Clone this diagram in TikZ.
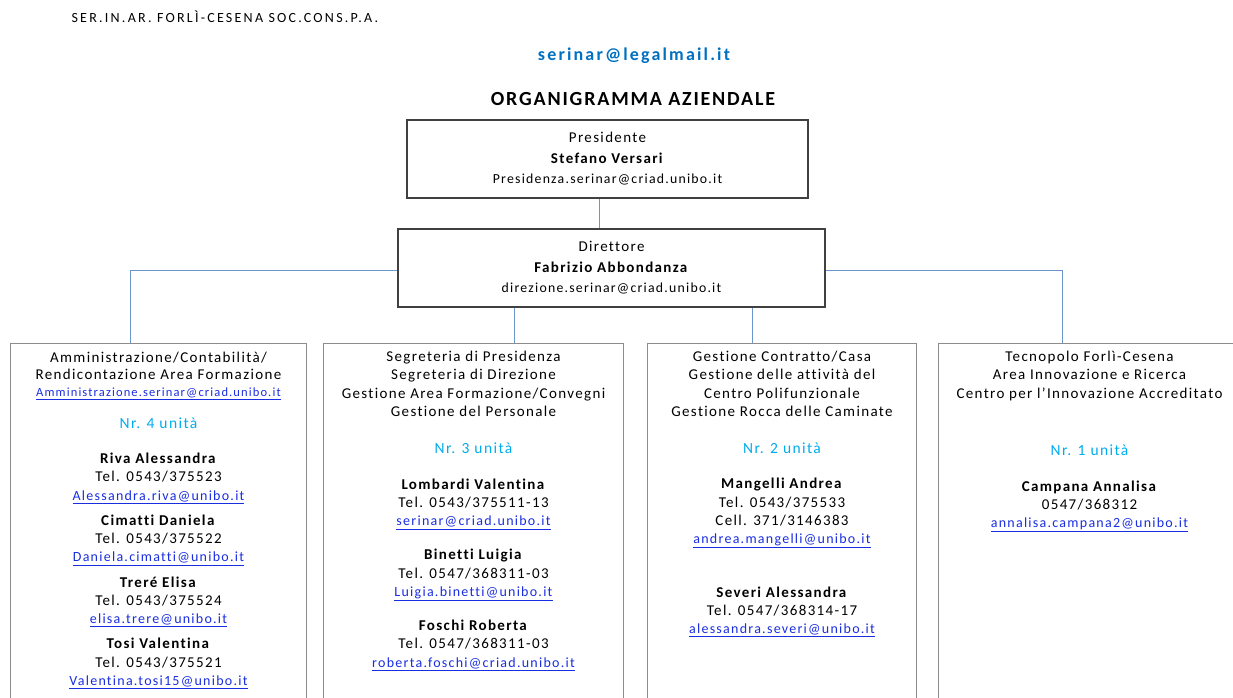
\documentclass[tikz,border=0pt]{standalone}
\usepackage{fontspec}
\setmainfont{Carlito}[LetterSpace=9, Ligatures=NoCommon]
\usetikzlibrary{positioning}

\definecolor{connblue}{RGB}{105,150,205}
\definecolor{linkblue}{RGB}{25,45,225}
\definecolor{unitcyan}{RGB}{0,172,238}
\definecolor{mailblue}{RGB}{0,112,192}

\newcommand{\mail}[1]{{\fontsize{14}{18.3}\selectfont\textcolor{linkblue}{\underline{#1}}}}
\newcommand{\unita}[1]{{\fontsize{15.5}{18.3}\selectfont\textcolor{unitcyan}{Nr. #1 unità}}}

\tikzset{
  topbox/.style={draw=black!75, line width=1.2pt, align=center, minimum height=78pt,
    font=\fontsize{15}{20.5}\selectfont},
  areabox/.style={draw=black!45, line width=1pt, anchor=north west, minimum height=370pt},
  boxtext/.style={align=center, inner sep=0pt, font=\fontsize{15}{18.3}\selectfont},
  conn/.style={draw=connblue, line width=1pt}
}

\begin{document}
\begin{tikzpicture}[x=1pt,y=-1pt]
\clip (0,0) rectangle (1233,697);

% intestazione
\node[anchor=west, font=\fontsize{14}{16}\selectfont\addfontfeature{LetterSpace=16}] (ente) at (68,17) {SER.IN.AR. FORLÌ-CESENA SOC.CONS.P.A.};
\node[font=\fontsize{18}{20}\bfseries\addfontfeature{LetterSpace=12}, text=mailblue] (pec) at (634,56) {serinar@legalmail.it};
\node[font=\fontsize{20}{22}\bfseries] (titolo) at (633,99) {ORGANIGRAMMA AZIENDALE};

% vertici
\node[topbox, minimum width=401pt] (pres) at (607.5,159) {Presidente\\ \textbf{Stefano Versari}\\ {\fontsize{13.8}{20.5}\selectfont Presidenza.serinar@criad.unibo.it}};
\node[topbox, minimum width=427pt] (dir) at (611.5,268) {Direttore\\ \textbf{Fabrizio Abbondanza}\\ {\fontsize{13.8}{20.5}\selectfont direzione.serinar@criad.unibo.it}};

% aree
\node[areabox, minimum width=296pt] (amm) at (10,343) {};
\node[areabox, minimum width=300pt] (segr) at (323,343) {};
\node[areabox, minimum width=269pt] (gest) at (647,343) {};
\node[areabox, minimum width=302pt] (tecn) at (938,343) {};

\node[boxtext, below=8.5pt of amm.north] (ammtxt) {Amministrazione/Contabilità/\\[-1.3pt] Rendicontazione Area Formazione\\[-1.3pt]
  {\fontsize{12.5}{18.3}\selectfont\textcolor{linkblue}{\underline{Amministrazione.serinar@criad.unibo.it}}}\\[13.7pt]
  \unita{4}\\[17.2pt]
  \textbf{Riva Alessandra}\\ Tel. 0543/375523\\ \mail{Alessandra.riva@unibo.it}\\[6.8pt]
  \textbf{Cimatti Daniela}\\ Tel. 0543/375522\\ \mail{Daniela.cimatti@unibo.it}\\[6.8pt]
  \textbf{Treré Elisa}\\ Tel. 0543/375524\\ \mail{elisa.trere@unibo.it}\\[6.8pt]
  \textbf{Tosi Valentina}\\ Tel. 0543/375521\\ \mail{Valentina.tosi15@unibo.it}};

\node[boxtext, below=8pt of segr.north] (segrtxt) {Segreteria di Presidenza\\ Segreteria di Direzione\\
  Gestione Area Formazione/Convegni\\ Gestione del Personale\\[18.5pt]
  \unita{3}\\[17.7pt]
  \textbf{Lombardi Valentina}\\ Tel. 0543/375511-13\\ \mail{serinar@criad.unibo.it}\\[15.7pt]
  \textbf{Binetti Luigia}\\ Tel. 0547/368311-03\\ \mail{Luigia.binetti@unibo.it}\\[15.7pt]
  \textbf{Foschi Roberta}\\ Tel. 0547/368311-03\\ \mail{roberta.foschi@criad.unibo.it}};

\node[boxtext, below=8pt of gest.north] (gesttxt) {Gestione Contratto/Casa\\ Gestione delle attività del\\
  Centro Polifunzionale\\ Gestione Rocca delle Caminate\\[18.7pt]
  \unita{2}\\[17pt]
  \textbf{Mangelli Andrea}\\ Tel. 0543/375533\\ Cell. 371/3146383\\ \mail{andrea.mangelli@unibo.it}\\[35pt]
  \textbf{Severi Alessandra}\\ Tel. 0547/368314-17\\ \mail{alessandra.severi@unibo.it}};

\node[boxtext, below=8pt of tecn.north] (tecntxt) {Tecnopolo Forlì-Cesena\\ Area Innovazione e Ricerca\\
  Centro per l’Innovazione Accreditato\\[38.5pt]
  \unita{1}\\[17.7pt]
  \textbf{Campana Annalisa}\\ 0547/368312\\ \mail{annalisa.campana2@unibo.it}};

% collegamenti
\draw[conn] ([xshift=-8pt]pres.south) -- ([xshift=-8pt]pres.south |- dir.north);
\draw[conn] ([yshift=-2pt]dir.west) -| ([xshift=-28pt]amm.north);
\draw[conn] ([yshift=-2pt]dir.east) -| ([xshift=-27pt]tecn.north);
\draw[conn] ([xshift=-97pt]dir.south) -- ([xshift=-97pt]dir.south |- segr.north);
\draw[conn] ([xshift=141pt]dir.south) -- ([xshift=141pt]dir.south |- gest.north);

\end{tikzpicture}
\end{document}
